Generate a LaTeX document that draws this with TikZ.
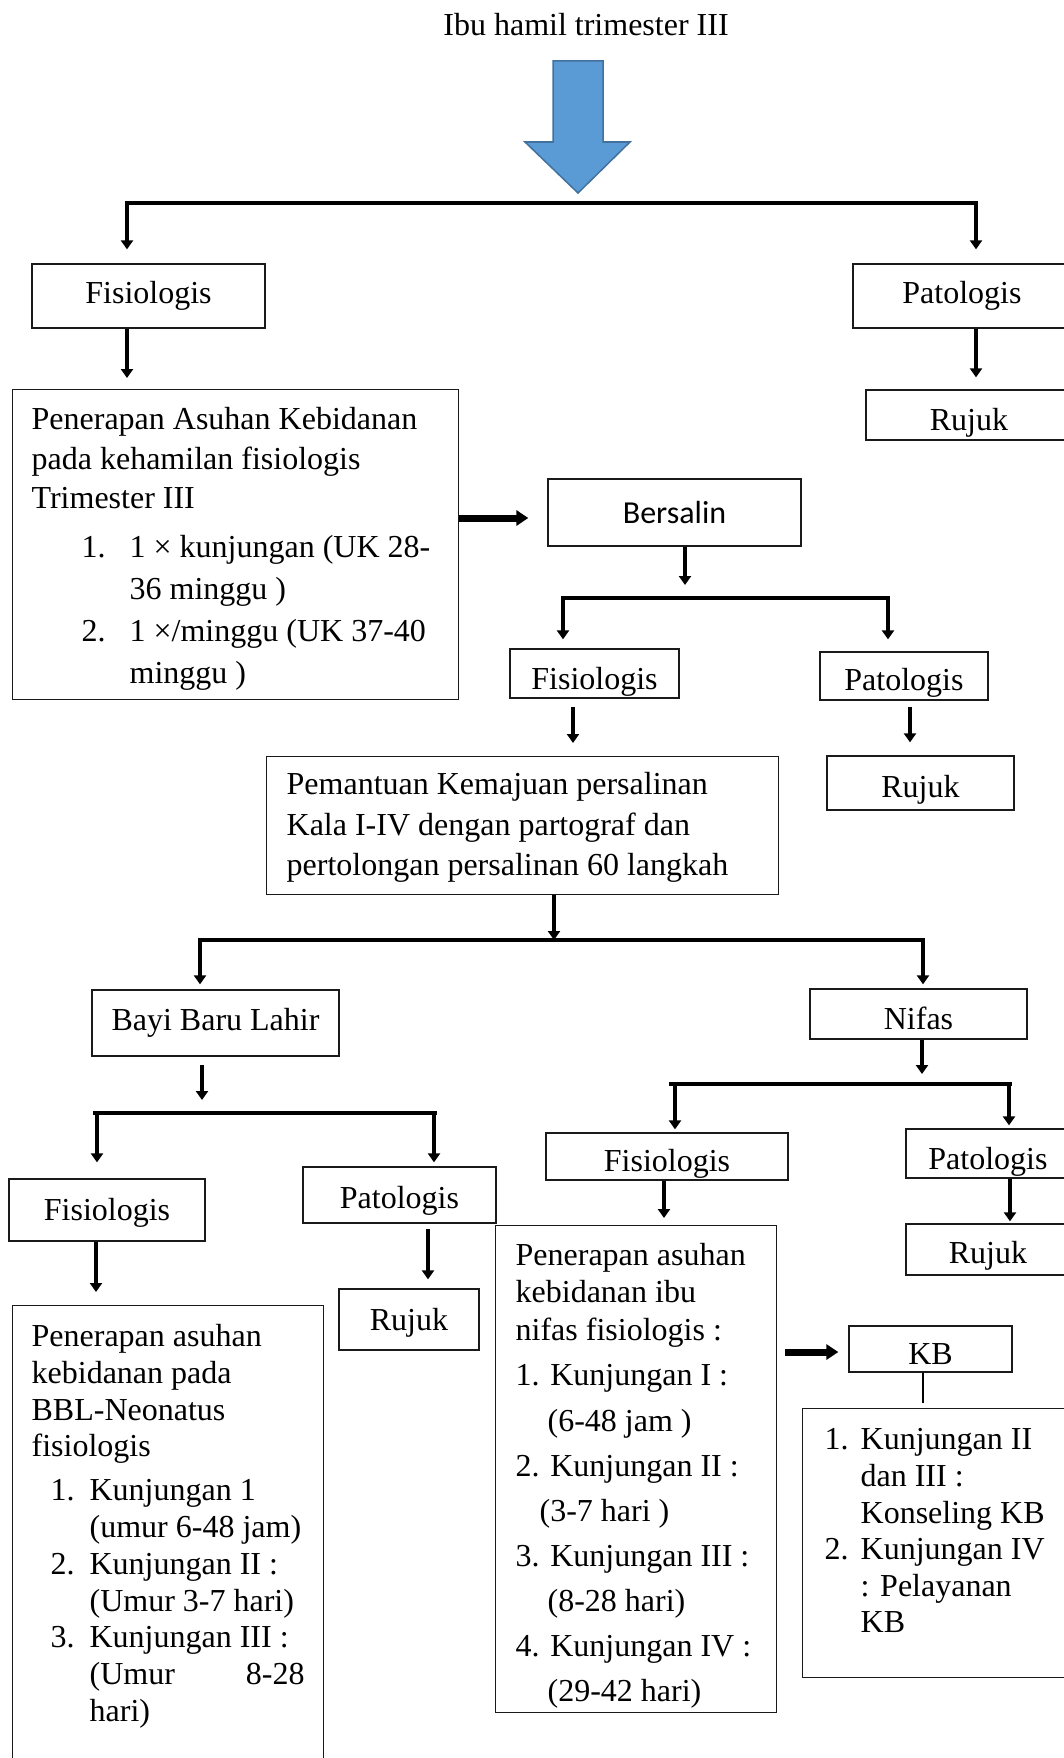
\documentclass[tikz,border=0pt]{standalone}
\usepackage{fontspec}
\setmainfont{Liberation Serif}
\newfontfamily\calibri{Carlito}
\usetikzlibrary{arrows.meta, positioning, calc}
\definecolor{cblue}{HTML}{5B9BD5}
\definecolor{cbluedark}{HTML}{41719C}
\definecolor{cline}{HTML}{1A1A1A}
\newcommand{\listnum}[3]{\hspace*{#1}\makebox[#2][l]{#3}}
\newcommand{\boxtext}[4]{\parbox[t][#2][t]{#1}{\fontsize{32}{#3}\selectfont #4}}
\tikzset{
  lbl/.style={font=\fontsize{32}{38}\selectfont},
  box/.style={draw=cline, line width=1.3pt, inner sep=0pt, align=center, font=\fontsize{32}{38}\selectfont},
  drop/.style={text height=#1, text depth=7pt},
  textbox/.style={box, anchor=north west, align=left},
  arrow/.style={-{Triangle[width=12pt, length=9pt]}, line width=4pt},
  fat/.style={-{Triangle[width=15pt, length=12pt]}, line width=7pt},
  bar/.style={line width=3.5pt, line cap=rect},
  bigarrow/.style={fill=cblue, draw=cbluedark, line width=1.5pt},
}

\begin{document}
\begin{tikzpicture}[x=1pt, y=-1pt]
  \useasboundingbox (0,0) rectangle (1063,1758);
  % top
  \node[lbl] (title) at (586,25) {Ibu hamil trimester III};
  \draw[bigarrow] (553,61) -- (603,61) -- (603,142) -- (630,142) -- (578,193) -- (525,142) -- (553,142) -- cycle;
  % kehamilan
  \node[box, minimum width=233pt, minimum height=64pt] (fisK) at (148.5,296) {Fisiologis};
  \node[box, minimum width=218pt, minimum height=64pt] (patK) at (962,296) {Patologis};
  \node[box, drop=38pt, minimum width=206pt, minimum height=50pt] (rujukK) at (969,415) {Rujuk};
  \node[textbox, inner xsep=19pt, inner ysep=18pt] (asuhK) at (12,389) {\boxtext{408pt}{274pt}{39.5pt}{%
    Penerapan Asuhan Kebidanan\\
    pada kehamilan fisiologis\\
    Trimester III\\[9.5pt]
    \listnum{50pt}{48pt}{1.}1 × kunjungan (UK 28-\\[2.5pt]
    \hspace*{98pt}36 minggu )\\[2.5pt]
    \listnum{50pt}{48pt}{2.}1 ×/minggu (UK 37-40\\[2.5pt]
    \hspace*{98pt}minggu )}};
  % persalinan
  \node[box, font=\calibri\fontsize{32}{38}\selectfont, minimum width=253pt, minimum height=67pt] (bers) at (674.5,512.5) {Bersalin};
  \node[box, drop=38pt, minimum width=169pt, minimum height=49pt] (fisP) at (594.5,673.5) {Fisiologis};
  \node[box, drop=36pt, minimum width=168pt, minimum height=48pt] (patP) at (904,676) {Patologis};
  \node[box, drop=36pt, minimum width=187pt, minimum height=54pt] (rujukP) at (920.5,783) {Rujuk};
  \node[textbox, inner xsep=20pt, inner ysep=16pt] (pem) at (266,756) {\boxtext{472pt}{106pt}{40.5pt}{%
    Pemantuan Kemajuan persalinan\\
    Kala I-IV dengan partograf dan\\
    pertolongan persalinan 60 langkah}};
  % bayi baru lahir
  \node[box, minimum width=247pt, minimum height=66pt] (bbl) at (215.5,1023) {Bayi Baru Lahir};
  \node[box, drop=28pt, minimum width=196pt, minimum height=62pt] (fisB) at (107,1210) {Fisiologis};
  \node[box, drop=34pt, minimum width=193pt, minimum height=56pt] (patB) at (399.5,1195) {Patologis};
  \node[box, drop=28pt, minimum width=140pt, minimum height=61pt] (rujukB) at (409,1319.5) {Rujuk};
  \node[textbox, inner xsep=19pt, inner ysep=19pt] (asuhB) at (12,1305) {\boxtext{273pt}{432pt}{36.7pt}{%
    Penerapan asuhan\\
    kebidanan pada\\
    BBL-Neonatus\\
    fisiologis\\[7.3pt]
    \listnum{19pt}{39pt}{1.}Kunjungan 1\\
    \hspace*{58pt}(umur 6-48 jam)\\
    \listnum{19pt}{39pt}{2.}Kunjungan II :\\
    \hspace*{58pt}(Umur 3-7 hari)\\
    \listnum{19pt}{39pt}{3.}Kunjungan III :\\
    \hspace*{58pt}(Umur\hfill 8-28\\
    \hspace*{58pt}hari)}};
  % nifas
  \node[box, drop=38pt, minimum width=217pt, minimum height=50pt] (nifas) at (918.5,1014) {Nifas};
  \node[box, drop=36pt, minimum width=242pt, minimum height=47pt] (fisN) at (667,1156.5) {Fisiologis};
  \node[box, drop=38pt, minimum width=164pt, minimum height=49pt] (patN) at (988,1153.5) {Patologis};
  \node[box, drop=34pt, minimum width=164pt, minimum height=51pt] (rujukN) at (988,1249.5) {Rujuk};
  \node[textbox, inner xsep=20pt, inner ysep=17.5pt] (asuhN) at (495,1225) {\boxtext{241pt}{452pt}{37.5pt}{%
    Penerapan asuhan\\
    kebidanan ibu\\
    nifas fisiologis :\\[7.5pt]
    1. Kunjungan I :\\[8.5pt]
    \hspace*{32pt}(6-48 jam )\\[7.5pt]
    2. Kunjungan II :\\[7.5pt]
    \hspace*{24pt}(3-7 hari )\\[7.5pt]
    3. Kunjungan III :\\[7.5pt]
    \hspace*{32pt}(8-28 hari)\\[7.5pt]
    4. Kunjungan IV :\\[7.5pt]
    \hspace*{32pt}(29-42 hari)}};
  \node[box, drop=37pt, minimum width=163pt, minimum height=46pt] (kb) at (930.5,1349) {KB};
  \node[textbox, inner xsep=22pt, inner ysep=20pt] (kblist) at (802,1408) {\boxtext{229pt}{229pt}{36.6pt}{%
    \listnum{0pt}{36pt}{1.}Kunjungan II\\
    \hspace*{36pt}dan III :\\
    \hspace*{36pt}Konseling KB\\
    \listnum{0pt}{36pt}{2.}Kunjungan IV\\
    \hspace*{36pt}: Pelayanan\\
    \hspace*{36pt}KB}};
  % split points
  \coordinate (b1l) at (127,203);  \coordinate (b1r) at (976,203);
  \coordinate (b2m) at (685,598);  \coordinate (b2l) at (563,598);  \coordinate (b2r) at (888,598);
  \coordinate (b3m) at (554,940);  \coordinate (b3l) at (200,940);  \coordinate (b3r) at (923,940);
  \coordinate (b4m) at (922,1084); \coordinate (b4l) at (675,1084); \coordinate (b4r) at (1009,1084);
  \coordinate (b5m) at (202,1113); \coordinate (b5l) at (97,1113);  \coordinate (b5r) at (434,1113);
  \draw[bar] (b1l) -- (b1r);
  \draw[bar] (b2l) -- (b2r);
  \draw[bar] (b3l) -- (b3r);
  \draw[bar] (671,1084) -- (1010,1084);
  \draw[bar] (95,1113) -- (435,1113);
  % kehamilan arrows
  \draw[arrow, shorten >=14pt] (b1l) -- (b1l |- fisK.north);
  \draw[arrow, shorten >=14pt] (b1r) -- (b1r |- patK.north);
  \draw[arrow, shorten >=11pt] (fisK.south -| b1l) -- (asuhK.north -| b1l);
  \draw[arrow, shorten >=12pt] (patK.south -| b1r) -- (rujukK.north -| b1r);
  \draw[fat, shorten >=19pt] (asuhK.east |- 0,518) -- (bers.west |- 0,518);
  % persalinan arrows
  \draw[arrow, shorten >=13pt] (bers.south -| b2m) -- (b2m);
  \draw[arrow, shorten >=9pt] (b2l) -- (b2l |- fisP.north);
  \draw[arrow, shorten >=12pt] (b2r) -- (b2r |- patP.north);
  \draw[arrow, shorten <=8pt, shorten >=13pt] (fisP.south -| 573,0) -- (pem.north -| 573,0);
  \draw[arrow, shorten <=6pt, shorten >=13pt] (patP.south -| 910,0) -- (rujukP.north -| 910,0);
  \draw[arrow] (pem.south -| b3m) -- (b3m);
  \draw[arrow, shorten >=5pt] (b3l) -- (b3l |- bbl.north);
  \draw[arrow, shorten >=4pt] (b3r) -- (b3r |- nifas.north);
  % bayi baru lahir arrows
  \draw[arrow, shorten <=8pt, shorten >=13pt] (bbl.south -| b5m) -- (b5m);
  \draw[arrow, shorten >=16pt] (b5l) -- (b5l |- fisB.north);
  \draw[arrow, shorten >=4pt] (b5r) -- (b5r |- patB.north);
  \draw[arrow, shorten >=13pt] (fisB.south -| 96,0) -- (asuhB.north -| 96,0);
  \draw[arrow, shorten <=5pt, shorten >=9pt] (patB.south -| 428,0) -- (rujukB.north -| 428,0);
  % nifas arrows
  \draw[arrow, shorten >=10pt] (nifas.south -| b4m) -- (b4m);
  \draw[arrow, shorten >=3pt] (b4l) -- (b4l |- fisN.north);
  \draw[arrow, shorten >=3pt] (b4r) -- (b4r |- patN.north);
  \draw[arrow, shorten >=7pt] (fisN.south -| 664,0) -- (asuhN.north -| 664,0);
  \draw[arrow, shorten >=2pt] (patN.south -| 1010,0) -- (rujukN.north -| 1010,0);
  \draw[fat, shorten <=8pt, shorten >=10pt] (asuhN.east |- 0,1352) -- (kb.west |- 0,1352);
  \draw[line width=1.5pt, shorten >=5pt] (kb.south -| 923,0) -- (kblist.north -| 923,0);
\end{tikzpicture}
\end{document}
